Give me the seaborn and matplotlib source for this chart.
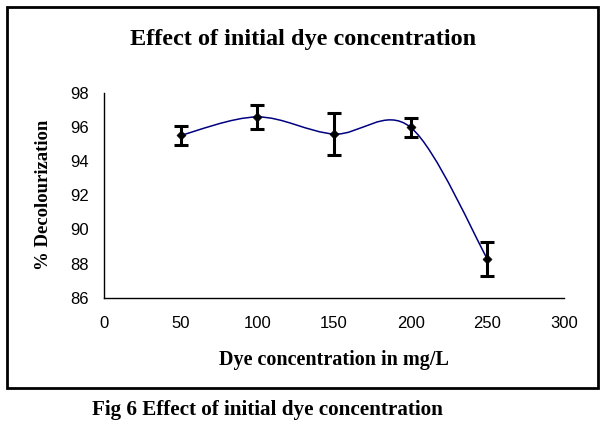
import seaborn as sns
import pandas as pd
import matplotlib.pyplot as plt
from matplotlib.path import Path
from matplotlib.patches import PathPatch, Rectangle

# data
dye_conc = [50, 100, 150, 200, 250]
decolour = [95.5, 96.58, 95.58, 95.97, 88.28]
err = [0.55, 0.7, 1.22, 0.57, 0.98]

df = pd.DataFrame({'conc': dye_conc, 'dec': decolour})

sns.set_style('white')
plt.rcParams.update({'text.color': 'black', 'axes.labelcolor': 'black',
                     'xtick.color': 'black', 'ytick.color': 'black'})
serif = ['Liberation Serif', 'DejaVu Serif']
sans = ['Liberation Sans', 'DejaVu Sans']

fig = plt.figure(figsize=(6.1, 4.29), dpi=100)
ax = fig.add_axes([0.1705, 0.306, 0.754, 0.478])

# smoothed line like excel (catmull-rom bezier through the points)
pts = list(zip(dye_conc, decolour))
n = len(pts)
verts = [pts[0]]
codes = [Path.MOVETO]
for i in range(n - 1):
    p0 = pts[max(i - 1, 0)]
    p1 = pts[i]
    p2 = pts[i + 1]
    p3 = pts[min(i + 2, n - 1)]
    c1 = (p1[0] + (p2[0] - p0[0]) / 6, p1[1] + (p2[1] - p0[1]) / 6)
    c2 = (p2[0] - (p3[0] - p1[0]) / 6, p2[1] - (p3[1] - p1[1]) / 6)
    verts += [c1, c2, p2]
    codes += [Path.CURVE4] * 3
ax.add_patch(PathPatch(Path(verts, codes), facecolor='none', edgecolor='#000080', lw=1.1, zorder=2))

ax.errorbar(dye_conc, decolour, yerr=err, fmt='none', ecolor='black', elinewidth=2.2,
            capsize=4.8, capthick=2.2, zorder=3)
sns.scatterplot(data=df, x='conc', y='dec', marker='D', s=22, color='black', edgecolor='black', ax=ax, zorder=4)

ax.set_xlim(0, 300)
ax.set_ylim(86, 98)
ax.set_xticks(range(0, 301, 50))
ax.set_yticks(range(86, 99, 2))
for s in ['top', 'right']:
    ax.spines[s].set_visible(False)
for s in ['left', 'bottom']:
    ax.spines[s].set_color('black')
    ax.spines[s].set_linewidth(1.0)
ax.tick_params(axis='both', direction='out', length=4, width=1, color='black', labelsize=12)
ax.tick_params(axis='x', pad=9.5)
ax.tick_params(axis='y', pad=7)
for lab in ax.get_xticklabels() + ax.get_yticklabels():
    lab.set_family(sans)

ax.set_xlabel('Dye concentration in mg/L', family=serif, fontweight='bold', fontsize=14.5, labelpad=13)
ax.set_ylabel('% Decolourization', family=serif, fontweight='bold', fontsize=13.5, labelpad=13)

fig.text(0.497, 0.907, 'Effect of initial dye concentration', family=serif, fontweight='bold',
         fontsize=17.5, ha='center', va='center')
fig.text(0.151, 0.044, 'Fig 6 Effect of initial dye concentration', family=serif, fontweight='bold',
         fontsize=15.2, ha='left', va='center')

# outer box around the chart
fig.patches.append(Rectangle((7 / 610, 1 - 388 / 429), 590.5 / 610, 381 / 429, transform=fig.transFigure,
                             fill=False, edgecolor='black', lw=2.0))

fig.savefig('out.png', dpi=100)
